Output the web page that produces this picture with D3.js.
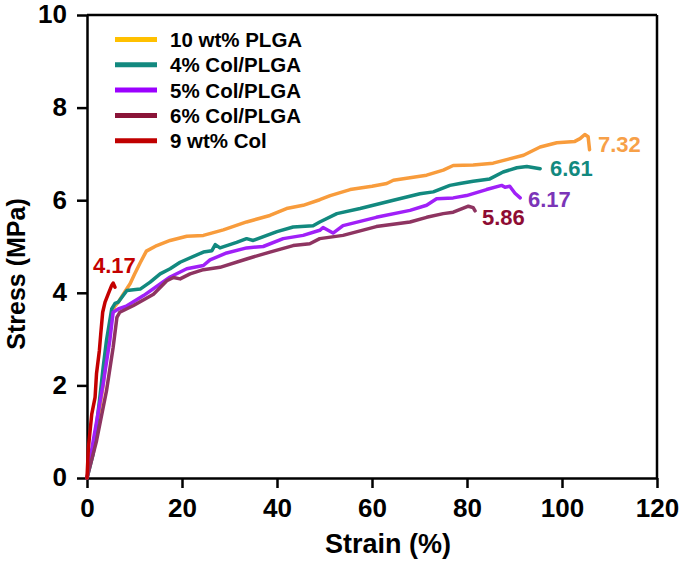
<!DOCTYPE html>
<html>
<head>
<meta charset="utf-8">
<script src="https://cdn.jsdelivr.net/npm/d3@7"></script>
<style>
  html, body { margin: 0; padding: 0; background: #fff; }
  svg text { font-family: "Liberation Sans", Arial, sans-serif; font-weight: bold; }
</style>
</head>
<body>
<svg id="chart" width="685" height="563"></svg>
<script>
// ---------- data ----------
const seriesNames = ["10 wt% PLGA", "4% Col/PLGA", "5% Col/PLGA", "6% Col/PLGA", "9 wt% Col"];
const maxLabels = ["7.32", "6.61", "6.17", "5.86", "4.17"];

const strainPLGA = [0,0.5,1.3,2.5,3.4,4.2,5.0,5.8,6.6,7.5,9.1,10,11.2,12.5,14.7,17.5,21,24.5,28.7,33.6,38.5,42,45.5,49,51.2,55.4,60,63.1,64.5,71.5,75,77.1,81.3,85.5,91.9,95.4,98.9,102.7,103.8,104.8,105.5,105.8];
const stressPLGA = [0,0.3,0.7,1.4,2.0,2.8,3.4,3.7,3.8,3.95,4.2,4.4,4.65,4.9,5.02,5.13,5.22,5.24,5.36,5.53,5.67,5.82,5.89,6.01,6.1,6.23,6.3,6.36,6.43,6.54,6.65,6.75,6.76,6.8,6.97,7.15,7.24,7.27,7.33,7.42,7.37,7.09];

const strain4 = [0,1.3,2.7,3.4,4.1,5.2,5.9,6.6,8.4,11.2,13.3,15.4,17.5,19.6,24.5,26.3,27,28,31.5,33.6,35,40,43.4,47.6,49,52.6,57.5,64.5,70.1,72.9,76.4,78.5,81.3,84.8,87.6,90.5,92.6,95.4];
const stress4 = [0,0.52,1.74,2.39,2.97,3.65,3.77,3.8,4.05,4.08,4.23,4.41,4.52,4.66,4.88,4.91,5.04,4.97,5.09,5.17,5.13,5.32,5.42,5.45,5.53,5.71,5.82,6.0,6.14,6.18,6.32,6.36,6.41,6.46,6.61,6.7,6.73,6.68];

const strain5 = [0,1.3,3.4,4.8,5.5,6.6,8.4,11.9,15.4,17.5,21,24.5,25.9,29.4,33.6,37.1,41.3,45.5,49,49.7,51.8,53.9,60.9,68,71.5,73.6,77.1,79.9,84.1,87.3,88,89,90.1,91.2];
const stress5 = [0,0.8,2.03,2.97,3.58,3.65,3.72,3.94,4.19,4.34,4.52,4.59,4.71,4.86,4.97,5.0,5.17,5.24,5.35,5.41,5.29,5.45,5.63,5.78,5.89,6.03,6.05,6.1,6.23,6.32,6.28,6.3,6.15,6.05];

const strain6 = [0,2.0,4.1,5.5,6.3,6.9,9.7,14,16.8,18.2,19.6,21.7,24.5,28,33.6,38.5,43.4,46.9,49,53.9,60.9,68,71.5,75,77.1,80.3,81.3,81.7];
const stress6 = [0,0.8,1.88,2.82,3.47,3.58,3.72,3.97,4.26,4.33,4.3,4.41,4.5,4.55,4.73,4.88,5.02,5.06,5.17,5.24,5.43,5.53,5.63,5.71,5.74,5.87,5.84,5.77];

const strainCol = [0,0.3,1.0,1.7,2.0,2.6,2.9,3.3,3.8,4.5,5.2,5.5,5.9];
const stressCol = [0,0.66,1.38,1.74,2.25,2.75,3.12,3.58,3.8,3.98,4.16,4.21,4.12];

const xTicks = [0,20,40,60,80,100,120];
const yTicks = [0,2,4,6,8,10];

// ---------- styling ----------
const lineColors   = ["#F89C3C", "#12897F", "#A020F8", "#8E3461", "#C40000"];
const legendColors = ["#FFC000", "#12897F", "#9B00FF", "#8A1438", "#C00000"];
const labelColors  = ["#F7A048", "#12897F", "#7B35B8", "#8E0C33", "#C40000"];

const svg = d3.select("#chart");
const margin = {left: 87, right: 28, top: 15, bottom: 85};
const W = 685, H = 563;
const x = d3.scaleLinear().domain([0,120]).range([margin.left, W - margin.right]);
const y = d3.scaleLinear().domain([0,10]).range([H - margin.bottom, margin.top]);

const series = [
  {xs: strainPLGA, ys: stressPLGA},
  {xs: strain4, ys: stress4},
  {xs: strain5, ys: stress5},
  {xs: strain6, ys: stress6},
  {xs: strainCol, ys: stressCol}
];

// frame (top/right)
svg.append("line").attr("x1", x(0)).attr("x2", x(120)).attr("y1", y(10)).attr("y2", y(10))
  .attr("stroke", "#000").attr("stroke-width", 2.5);
svg.append("line").attr("x1", x(120)).attr("x2", x(120)).attr("y1", y(10)).attr("y2", y(0))
  .attr("stroke", "#000").attr("stroke-width", 2.5);

// axes
const xAxis = svg.append("g").attr("transform", `translate(0,${y(0)})`)
  .call(d3.axisBottom(x).tickValues(xTicks).tickSize(10).tickPadding(4).tickSizeOuter(0));
const yAxis = svg.append("g").attr("transform", `translate(${x(0)},0)`)
  .call(d3.axisLeft(y).tickValues(yTicks).tickSize(10).tickPadding(10).tickSizeOuter(0));
[xAxis, yAxis].forEach(g => {
  g.select(".domain").attr("stroke", "#000").attr("stroke-width", 2.5);
  g.selectAll(".tick line").attr("stroke", "#000").attr("stroke-width", 2.5);
  g.selectAll(".tick text").attr("fill", "#000").style("font-size", "26px")
    .style("font-family", "'Liberation Sans', Arial, sans-serif").style("font-weight", "bold");
});
xAxis.selectAll(".tick text").attr("dy", "0.95em");
yAxis.selectAll(".tick text").attr("dy", "0.3em");

// axis titles
svg.append("text").attr("x", 388).attr("y", 553).attr("text-anchor", "middle")
  .style("font-size", "27px").text("Strain (%)");
svg.append("text").attr("transform", `translate(25,274) rotate(-90)`)
  .attr("text-anchor", "middle").style("font-size", "25px").text("Stress (MPa)");

// curves
const line = d3.line().x(d => x(d[0])).y(d => y(d[1]));
series.forEach((s, i) => {
  const pts = s.xs.map((v, j) => [v, s.ys[j]]);
  svg.append("path").datum(pts).attr("d", line).attr("fill", "none")
    .attr("stroke", lineColors[i]).attr("stroke-width", 3.5)
    .attr("stroke-linejoin", "round").attr("stroke-linecap", "round");
});

// value labels
const labelPos = [[598,152],[550,176],[528,207],[482,225],[93,273]];
maxLabels.forEach((t, i) => {
  svg.append("text").attr("x", labelPos[i][0]).attr("y", labelPos[i][1])
    .attr("fill", labelColors[i]).style("font-size", "22px").text(t);
});

// legend
const legend = svg.append("g");
seriesNames.forEach((n, i) => {
  const cy = 39.5 + i * 25.3;
  legend.append("line").attr("x1", 115).attr("x2", 157).attr("y1", cy).attr("y2", cy)
    .attr("stroke", legendColors[i]).attr("stroke-width", 5);
  legend.append("text").attr("x", 170).attr("y", cy + 7.5)
    .style("font-size", "20.5px").attr("fill", "#000").text(n);
});
</script>
</body>
</html>
